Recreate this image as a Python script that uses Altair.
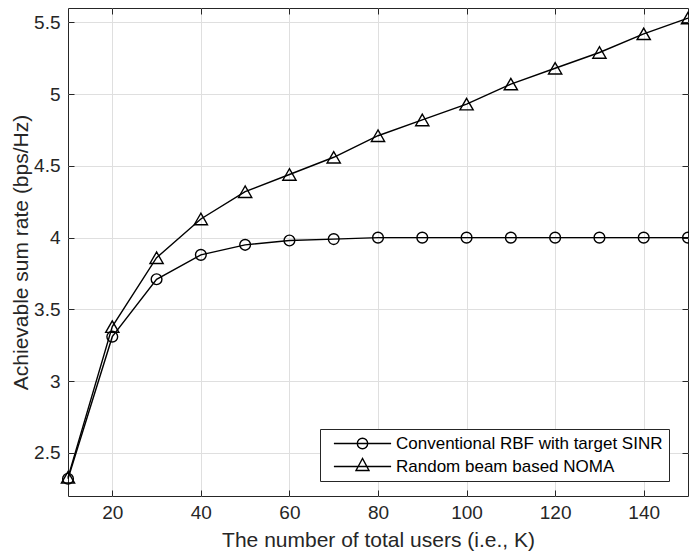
import altair as alt
import pandas as pd

# ---- data ----
users = [10, 20, 30, 40, 50, 60, 70, 80, 90, 100, 110, 120, 130, 140, 150]
rbf_rate = [2.32, 3.31, 3.71, 3.88, 3.95, 3.98, 3.99, 4.00, 4.00, 4.00, 4.00, 4.00, 4.00, 4.00, 4.00]
noma_rate = [2.33, 3.38, 3.86, 4.13, 4.32, 4.44, 4.56, 4.71, 4.82, 4.93, 5.07, 5.18, 5.29, 5.42, 5.53]
series_names = ["Conventional RBF with target SINR", "Random beam based NOMA"]
x_ticks = [20, 40, 60, 80, 100, 120, 140]
y_ticks = [2.5, 3, 3.5, 4, 4.5, 5, 5.5]
x_domain = [10, 150]
y_domain = [2.2, 5.6]

df = pd.DataFrame({
    "K": users + users,
    "rate": rbf_rate + noma_rate,
    "series": [series_names[0]] * len(users) + [series_names[1]] * len(users),
})

FONT = "Liberation Sans"
TXT = "#262626"
GRID = "#dfdfdf"
LW = 1.4

xscale = alt.Scale(domain=x_domain, nice=False, zero=False)
yscale = alt.Scale(domain=y_domain, nice=False, zero=False)

common_axis = dict(domain=False, tickColor=TXT, tickSize=6, tickWidth=1, offset=-6,
                   labelFont=FONT, labelFontSize=19, labelColor=TXT, labelFlush=False,
                   titleFont=FONT, titleFontSize=21, titleColor=TXT, titleFontWeight="normal")

x_bottom = alt.X("K:Q", scale=xscale, title="The number of total users (i.e., K)",
                 axis=alt.Axis(orient="bottom", values=x_ticks, grid=True, gridColor=GRID,
                               labelPadding=7.5, titlePadding=7, **common_axis))
y_left = alt.Y("rate:Q", scale=yscale, title="Achievable sum rate (bps/Hz)",
               axis=alt.Axis(orient="left", values=y_ticks, grid=True, gridColor=GRID,
                             format=".1~f", labelPadding=8, titlePadding=2, **common_axis))

x_top = alt.X("K:Q", scale=xscale, title=None,
              axis=alt.Axis(orient="top", values=x_ticks, grid=False, labels=False,
                            domain=False, tickColor=TXT, tickSize=6, offset=-6))
y_right = alt.Y("rate:Q", scale=yscale, title=None,
                axis=alt.Axis(orient="right", values=y_ticks, grid=False, labels=False,
                              domain=False, tickColor=TXT, tickSize=6, offset=-6))

lines = alt.Chart(df).mark_line(color="black", strokeWidth=LW).encode(
    x=x_bottom, y=y_left, detail="series:N")

pts_rbf = alt.Chart(df).transform_filter(
    alt.datum.series == series_names[0]
).mark_point(shape="circle", size=115, filled=False, color="black", strokeWidth=LW, opacity=1).encode(
    x=alt.X("K:Q", scale=xscale, axis=None), y=alt.Y("rate:Q", scale=yscale, axis=None))

pts_noma = alt.Chart(df).transform_filter(
    alt.datum.series == series_names[1]
).mark_point(shape="triangle-up", size=175, filled=False, color="black", strokeWidth=LW, opacity=1).encode(
    x=alt.X("K:Q", scale=xscale, axis=None), y=alt.Y("rate:Q", scale=yscale, axis=None))

circ_path = "M-4.4,0H4.4M-0.8,0A0.8,0.8,0,1,1,0.8,0A0.8,0.8,0,1,1,-0.8,0Z"
tri_path = "M-4.4,0H4.4M0,-1.23L-1,0.62L1,0.62Z"

legend_layer = alt.Chart(df).mark_point(filled=False, color="black", strokeWidth=LW, opacity=0).encode(
    x=x_top, y=y_right,
    shape=alt.Shape("series:N",
                    scale=alt.Scale(domain=series_names, range=[circ_path, tri_path]),
                    legend=alt.Legend(title=None, orient="none", legendX=252, legendY=421,
                                      direction="vertical", padding=6,
                                      strokeColor=TXT, fillColor="white", cornerRadius=0,
                                      symbolSize=169, symbolOpacity=1, symbolStrokeColor="black",
                                      symbolStrokeWidth=LW, symbolFillColor="transparent",
                                      symbolOffset=28, labelOffset=25,
                                      labelFont=FONT, labelFontSize=17, labelColor="black",
                                      labelLimit=0, rowPadding=3)))

chart = alt.layer(lines, pts_rbf, pts_noma, legend_layer).resolve_axis(
    x="independent", y="independent"
).properties(
    width=620, height=488,
    autosize=alt.AutoSizeParams(type="none"),
    padding={"left": 60, "top": 0, "right": 1, "bottom": 55},
    background="white",
).configure_view(stroke=TXT, strokeWidth=1)

chart.save("out.html", embed_options={"renderer": "svg", "actions": False})
